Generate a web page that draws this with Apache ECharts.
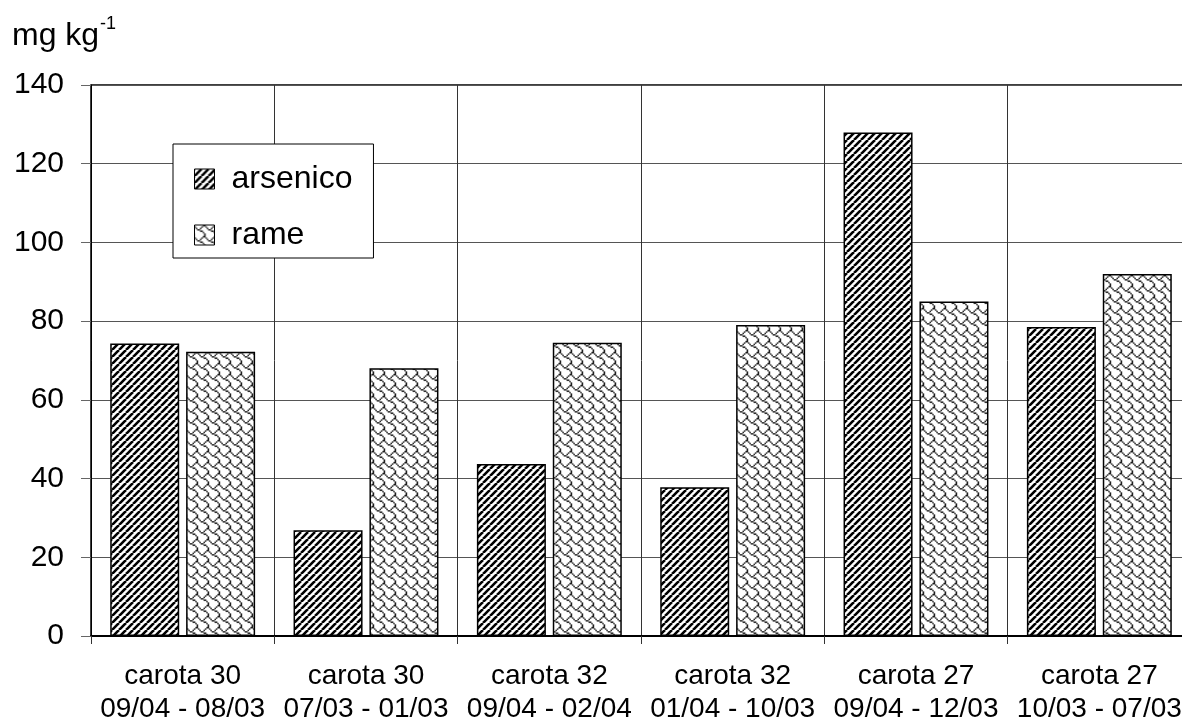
<!DOCTYPE html>
<html>
<head>
<meta charset="utf-8">
<script src="https://cdn.jsdelivr.net/npm/echarts@6/dist/echarts.min.js"></script>
<style>
  html, body { margin: 0; padding: 0; background: #fff; }
  #chart { width: 1182px; height: 722px; }
</style>
</head>
<body>
<div id="chart"></div>
<script>
// Concentrations per core section (mg kg-1)
const categories = [
  'carota 30\n09/04 - 08/03',
  'carota 30\n07/03 - 01/03',
  'carota 32\n09/04 - 02/04',
  'carota 32\n01/04 - 10/03',
  'carota 27\n09/04 - 12/03',
  'carota 27\n10/03 - 07/03'
];
const arsenico = [74.3, 26.9, 43.7, 37.8, 127.9, 78.5];
const rame = [72.2, 68.0, 74.5, 79.0, 85.0, 92.0];
const seriesNames = ['arsenico', 'rame'];
const yTicks = { min: 0, max: 140, step: 20 };

const FONT = '"Liberation Sans", Arial, sans-serif';

// Diagonal black hatch tile
function hatchTile() {
  const s = 7;
  const c = document.createElement('canvas');
  c.width = s; c.height = s;
  const g = c.getContext('2d');
  g.fillStyle = '#fff';
  g.fillRect(0, 0, s, s);
  g.strokeStyle = '#000';
  g.lineWidth = 2.6;
  g.beginPath();
  for (let k = -1; k <= 1; k++) {
    g.moveTo(k * s, s);
    g.lineTo(k * s + s, 0);
  }
  g.stroke();
  return c;
}

// Shingle hatch: 8x8 bit rows, drawn then scaled up smoothly
const SHINGLE_BITS = [0x03, 0x84, 0x48, 0x30, 0x0c, 0x02, 0x01, 0x01];
function shingleTile(size) {
  const base = document.createElement('canvas');
  base.width = 8; base.height = 8;
  const b = base.getContext('2d');
  b.fillStyle = '#fff';
  b.fillRect(0, 0, 8, 8);
  b.fillStyle = '#000';
  SHINGLE_BITS.forEach((row, y) => {
    for (let x = 0; x < 8; x++) {
      if (row & (0x80 >> x)) b.fillRect(x, y, 1, 1);
    }
  });
  const c = document.createElement('canvas');
  c.width = size; c.height = size;
  const g = c.getContext('2d');
  g.imageSmoothingEnabled = true;
  // draw a 3x3 block so smoothing wraps cleanly at the edges
  const big = document.createElement('canvas');
  big.width = 24; big.height = 24;
  const bg = big.getContext('2d');
  for (let i = 0; i < 3; i++) for (let j = 0; j < 3; j++) bg.drawImage(base, i * 8, j * 8);
  g.drawImage(big, -size, -size, size * 3, size * 3);
  return c;
}

const chart = echarts.init(document.getElementById('chart'), null, { renderer: 'canvas' });

chart.setOption({
  animation: false,
  backgroundColor: '#fff',
  textStyle: { fontFamily: FONT },
  grid: {
    left: 91, width: 1100, top: 85, bottom: 86,
    containLabel: false, outerBoundsMode: 'none',
    show: true, borderColor: '#000', borderWidth: 1.5, backgroundColor: 'transparent'
  },
  graphic: [
    { type: 'text', left: 12, top: 20, style: { text: 'mg kg', font: '32px ' + FONT, fill: '#000' } },
    { type: 'text', left: 100, top: 15, style: { text: '-1', font: '18px ' + FONT, fill: '#000' } }
  ],
  legend: {
    orient: 'vertical',
    left: 173, top: 144,
    padding: [17, 21, 5, 21],
    itemWidth: 20, itemHeight: 20, itemGap: 20,
    backgroundColor: '#fff',
    borderColor: '#000', borderWidth: 1,
    icon: 'rect',
    itemStyle: { borderColor: '#000', borderWidth: 1 },
    textStyle: { fontSize: 32, color: '#000', fontFamily: FONT, lineHeight: 36, padding: [0, 0, 0, 12] },
    data: seriesNames
  },
  xAxis: {
    type: 'category',
    data: categories,
    axisLine: { lineStyle: { color: '#000', width: 2 } },
    axisTick: { show: true, length: 8, lineStyle: { color: '#333' } },
    splitLine: { show: true, lineStyle: { color: '#333', width: 1 } },
    axisLabel: { fontSize: 28, color: '#000', lineHeight: 33, margin: 24, interval: 0, fontFamily: FONT }
  },
  yAxis: {
    type: 'value',
    min: yTicks.min, max: yTicks.max, interval: yTicks.step,
    axisLine: { show: true, lineStyle: { color: '#000', width: 1 } },
    axisTick: { show: true, length: 10, lineStyle: { color: '#666' } },
    splitLine: { show: true, lineStyle: { color: '#555', width: 1 } },
    axisLabel: { fontSize: 30, color: '#000', margin: 27, padding: [4, 0, 0, 0], fontFamily: FONT }
  },
  series: [
    {
      name: seriesNames[0], type: 'bar', data: arsenico,
      barWidth: 69, barGap: '10%',
      itemStyle: { color: { image: hatchTile(), repeat: 'repeat' }, borderColor: '#000', borderWidth: 1.5 }
    },
    {
      name: seriesNames[1], type: 'bar', data: rame,
      barWidth: 69, barGap: '10%',
      itemStyle: { color: { image: shingleTile(11), repeat: 'repeat' }, borderColor: '#000', borderWidth: 1.5 }
    }
  ]
});
</script>
</body>
</html>
